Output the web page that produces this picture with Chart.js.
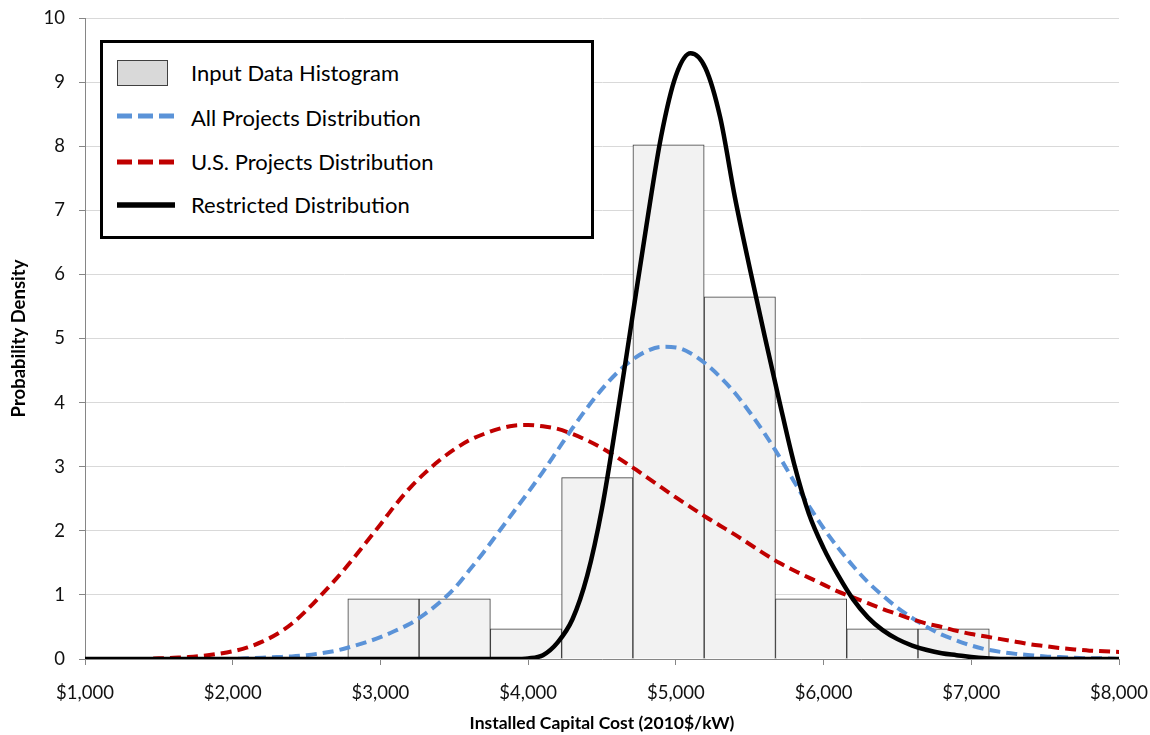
<!DOCTYPE html>
<html>
<head>
<meta charset="utf-8">
<script src="https://cdn.jsdelivr.net/npm/chart.js@4.4.0/dist/chart.umd.min.js"></script>
<style>
html,body{margin:0;padding:0;background:#fff;}
#wrap{position:relative;width:1150px;height:735px;overflow:hidden;}
#c{position:absolute;left:0;top:0;}
#legend{position:absolute;left:100px;top:40px;width:494px;height:199px;box-sizing:border-box;border:3px solid #000;background:#fff;font-family:Lato,sans-serif;font-size:22px;color:#000;}
.lab{position:absolute;left:88px;height:26px;line-height:26px;white-space:nowrap;}
.sw{position:absolute;left:14px;}
</style>
</head>
<body>
<div id="wrap">
<canvas id="c" width="1150" height="735"></canvas>
<div id="legend">
  <div class="sw" style="top:17px;width:51px;height:26px;box-sizing:border-box;background:#d9d9d9;border:1.5px solid #404040;"></div>
  <div class="lab" style="top:17px;">Input Data Histogram</div>
  <svg class="sw" style="top:67px;" width="62" height="12"><line x1="0" y1="6" x2="58" y2="6" stroke="#5b93d8" stroke-width="5" stroke-dasharray="15 6"/></svg>
  <div class="lab" style="top:62px;">All Projects Distribution</div>
  <svg class="sw" style="top:113px;" width="62" height="12"><line x1="0" y1="6" x2="58" y2="6" stroke="#c00000" stroke-width="5" stroke-dasharray="15 6"/></svg>
  <div class="lab" style="top:106px;">U.S. Projects Distribution</div>
  <svg class="sw" style="top:156px;" width="62" height="12"><line x1="0" y1="6" x2="58" y2="6" stroke="#000" stroke-width="5.5"/></svg>
  <div class="lab" style="top:149px;">Restricted Distribution</div>
</div>
</div>
<script>
// ---- data ----
const costGrid = [1000,1100,1200,1300,1400,1500,1600,1700,1800,1900,
  2000,2100,2200,2300,2400,2500,2600,2700,2800,2900,
  3000,3100,3200,3300,3400,3500,3600,3700,3800,3900,
  4000,4100,4200,4300,4400,4500,4600,4700,4800,4900,
  5000,5100,5200,5300,5400,5500,5600,5700,5800,5900,
  6000,6100,6200,6300,6400,6500,6600,6700,6800,6900,
  7000,7100,7200,7300,7400,7500,7600,7700,7800,7900,8000];

const allProjects = [0,0,0,0,0,0,0,0,0,0,
  0,0.01,0.02,0.03,0.04,0.06,0.09,0.13,0.19,0.26,
  0.34,0.44,0.55,0.70,0.88,1.10,1.38,1.67,1.98,2.29,
  2.60,2.92,3.26,3.60,3.92,4.21,4.46,4.66,4.80,4.87,
  4.86,4.77,4.61,4.40,4.15,3.85,3.52,3.16,2.77,2.39,
  2.04,1.73,1.45,1.20,0.99,0.80,0.64,0.50,0.38,0.29,
  0.21,0.15,0.11,0.08,0.06,0.04,0.03,0.02,0.01,0.01,0];

const usProjects = [0,0,0,0,0,0.01,0.02,0.03,0.05,0.08,
  0.12,0.18,0.27,0.39,0.55,0.76,1.00,1.25,1.52,1.81,
  2.10,2.40,2.67,2.90,3.10,3.27,3.41,3.51,3.59,3.64,
  3.65,3.63,3.59,3.51,3.41,3.29,3.15,3.00,2.84,2.68,
  2.52,2.37,2.22,2.08,1.94,1.79,1.64,1.50,1.38,1.27,
  1.16,1.05,0.96,0.87,0.78,0.70,0.62,0.55,0.50,0.44,
  0.39,0.35,0.31,0.27,0.23,0.20,0.17,0.15,0.13,0.12,0.11];

const restricted = [0,0,0,0,0,0,0,0,0,0,
  0,0,0,0,0,0,0,0,0,0,
  0,0,0,0,0,0,0,0,0,0,
  0.01,0.06,0.26,0.62,1.30,2.35,3.75,5.25,6.75,8.15,
  9.10,9.45,9.22,8.45,7.20,6.10,5.05,4.03,3.05,2.27,
  1.73,1.30,0.93,0.65,0.45,0.31,0.21,0.14,0.09,0.06,
  0.03,0.01,0,0,0,0,0,0,0,0,0];

const binCenters = [3020.5,3503,3985.5,4468,4950.5,5433,5915.5,6398,6880.5];
const histogram  = [0.94,0.94,0.47,2.83,8.02,5.65,0.94,0.47,0.47];

const xTickValues = [1000,2000,3000,4000,5000,6000,7000,8000];
const xTickLabels = ['$1,000','$2,000','$3,000','$4,000','$5,000','$6,000','$7,000','$8,000'];
const yTickValues = [0,1,2,3,4,5,6,7,8,9,10];

const seriesNames = ['Input Data Histogram','All Projects Distribution','U.S. Projects Distribution','Restricted Distribution'];

// ---- chart ----
Chart.defaults.font.family = 'Lato, sans-serif';
const toPts = (arr) => costGrid.map((x, i) => ({x: x, y: arr[i]}));

new Chart(document.getElementById('c'), {
  type: 'line',
  data: {
    datasets: [
      {
        type: 'bar', label: seriesNames[0],
        data: binCenters.map((x, i) => ({x: x, y: histogram[i]})),
        backgroundColor: '#f2f2f2', borderColor: '#3a3a3a', borderWidth: 1,
        barPercentage: 1, categoryPercentage: 1, grouped: false, order: 4
      },
      {
        type: 'line', label: seriesNames[1], data: toPts(allProjects),
        borderColor: '#5b93d8', borderWidth: 4, borderDash: [11, 6],
        pointRadius: 0, fill: false, cubicInterpolationMode: 'monotone', order: 3
      },
      {
        type: 'line', label: seriesNames[2], data: toPts(usProjects),
        borderColor: '#c00000', borderWidth: 4, borderDash: [11, 6],
        pointRadius: 0, fill: false, cubicInterpolationMode: 'monotone', order: 2
      },
      {
        type: 'line', label: seriesNames[3], data: toPts(restricted),
        borderColor: '#000000', borderWidth: 4.5,
        pointRadius: 0, fill: false, cubicInterpolationMode: 'monotone', order: 1
      }
    ]
  },
  options: {
    responsive: false,
    animation: false,
    devicePixelRatio: 1,
    layout: {padding: {top: 18, right: 31, left: 0, bottom: 0}},
    plugins: {legend: {display: false}, tooltip: {enabled: false}},
    scales: {
      x: {
        type: 'linear', min: 1000, max: 8000, offset: false,
        afterBuildTicks: (s) => { s.ticks = xTickValues.map(v => ({value: v})); },
        ticks: {
          autoSkip: false, maxRotation: 0, color: '#111', padding: 17,
          font: {size: 18.5},
          callback: (v) => xTickLabels[xTickValues.indexOf(v)]
        },
        grid: {offset: false, drawOnChartArea: false, drawTicks: true, tickLength: 6, tickColor: '#868686', color: '#868686'},
        border: {display: true, color: '#868686', width: 1},
        title: {display: true, text: 'Installed Capital Cost (2010$/kW)', color: '#000',
                font: {size: 17.5, weight: 'bold'}, padding: {top: 0, bottom: 1}},
        afterFit: (s) => { s.height = 76; s.paddingLeft = 0; s.paddingRight = 0; }
      },
      y: {
        type: 'linear', min: 0, max: 10,
        afterBuildTicks: (s) => { s.ticks = yTickValues.map(v => ({value: v})); },
        ticks: {color: '#111', padding: 14, font: {size: 18.5}},
        grid: {color: '#d9d9d9', tickColor: '#868686', tickLength: 6, drawTicks: true},
        border: {display: true, color: '#868686', width: 1},
        title: {display: true, text: 'Probability Density', color: '#000',
                font: {size: 18.5, weight: 'bold'}, padding: {top: 8, bottom: 0}},
        afterFit: (s) => { s.width = 85; s.paddingTop = 0; s.paddingBottom = 0; }
      }
    }
  }
});
</script>
</body>
</html>
